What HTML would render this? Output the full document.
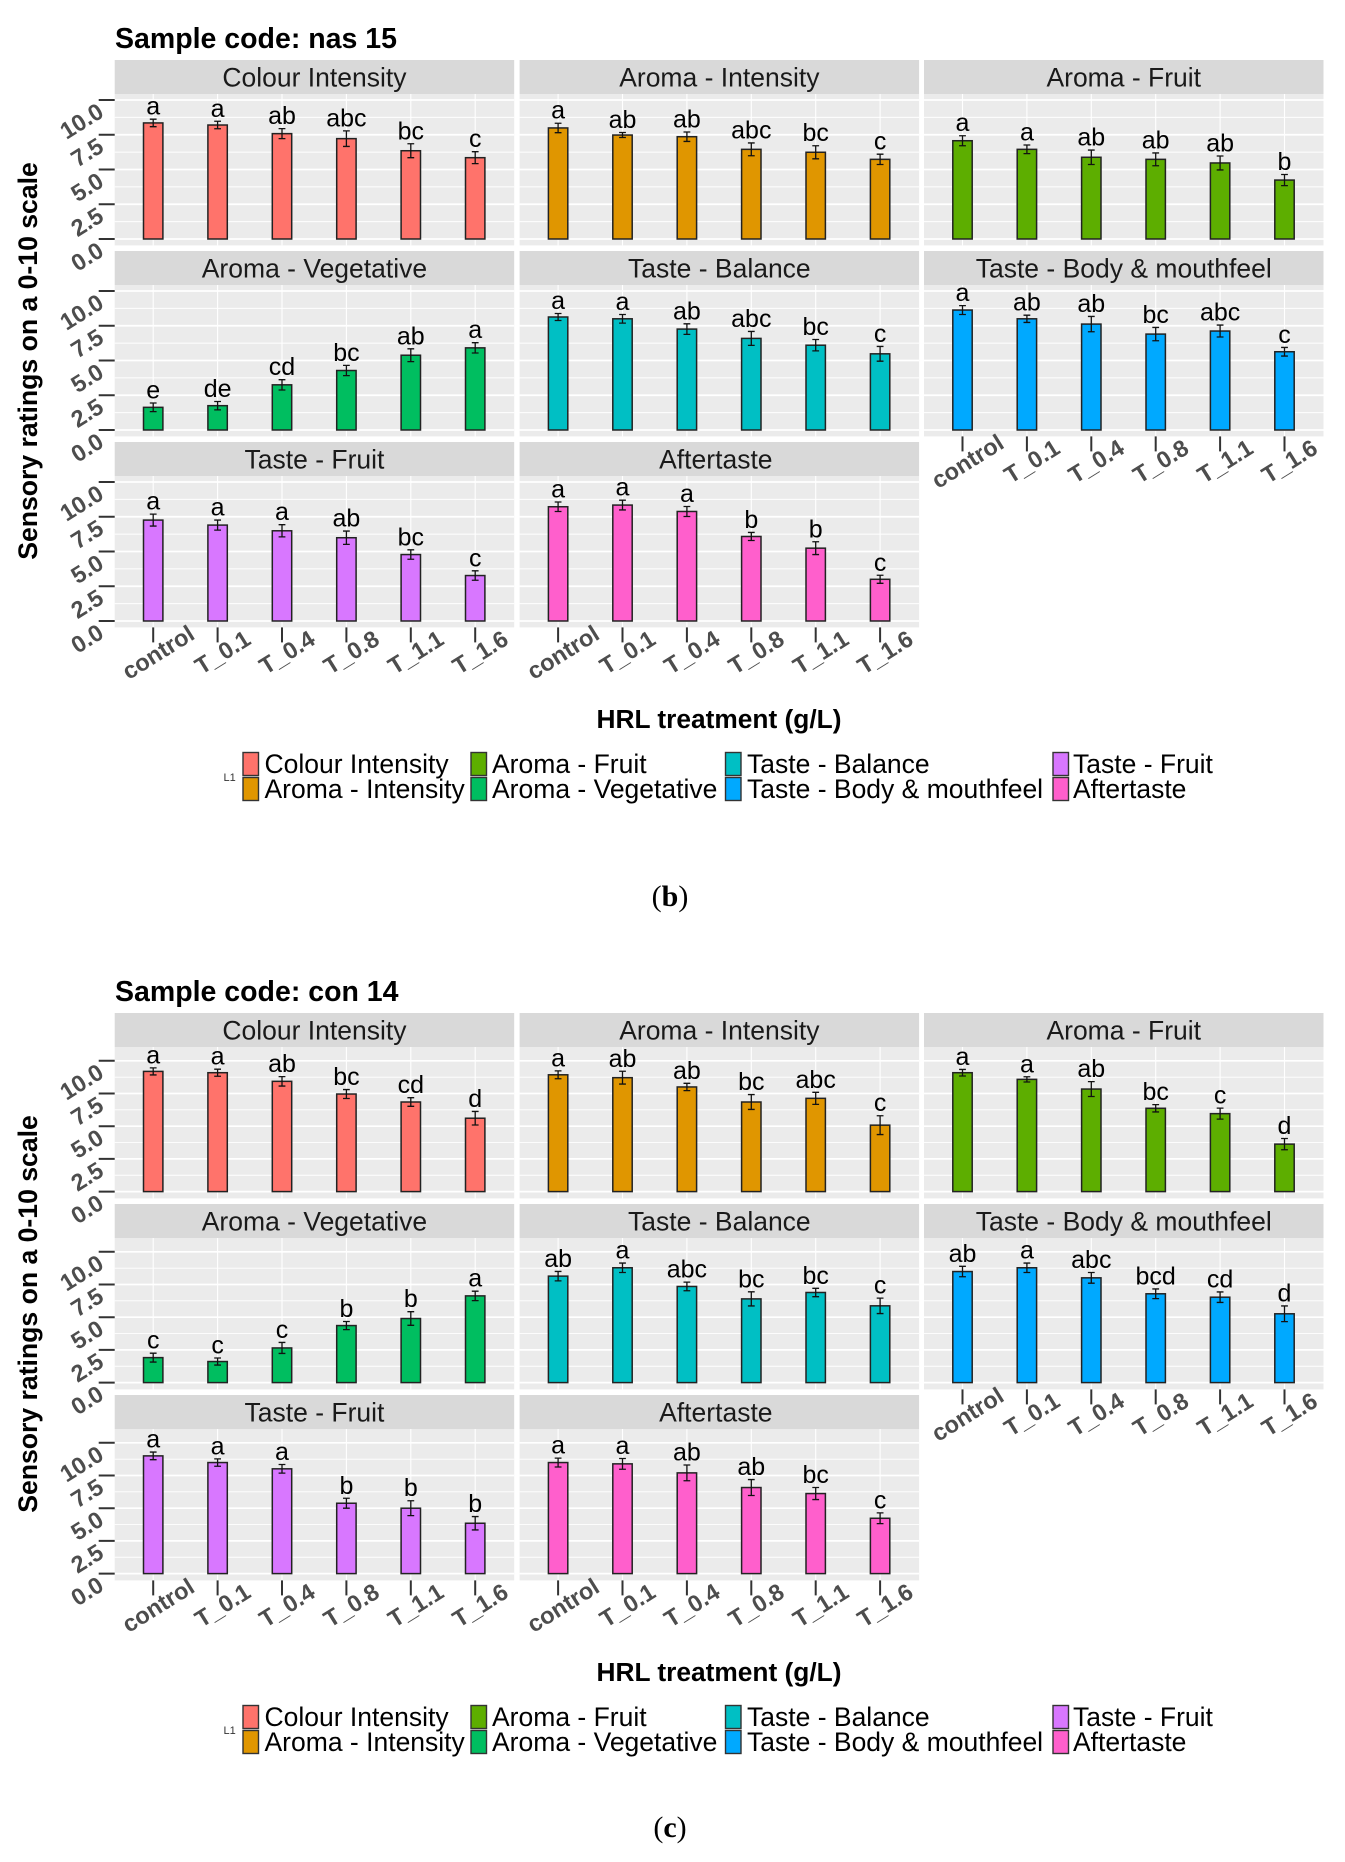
<!DOCTYPE html>
<html lang="en">
<head>
<meta charset="utf-8">
<title>Sensory ratings by HRL treatment</title>
<style>
html,body{margin:0;padding:0;background:#fff;width:1345px;height:1862px;overflow:hidden}
svg{display:block}
text{font-family:"Liberation Sans",sans-serif}
.bold{font-weight:700}
.cap{font-family:"Liberation Serif",serif;font-size:30px}
</style>
</head>
<body>
<svg id="chart" xmlns="http://www.w3.org/2000/svg" width="1345" height="1862" viewBox="0 0 1345 1862">
  <rect width="1345" height="1862" fill="#fff"/>
  <g id="fig-b">
    <text class="bold" x="115" y="48" font-size="28.5">Sample code: nas 15</text>
    <text class="bold" x="37" y="361" font-size="26.6" text-anchor="middle" transform="rotate(-90 37 361)">Sensory ratings on a 0-10 scale</text>
    <text class="bold" x="719" y="728" font-size="26.3" text-anchor="middle">HRL treatment (g/L)</text>
    <text class="cap" x="670" y="906" text-anchor="middle">(<tspan font-weight="700">b</tspan>)</text>
  </g>
  <g id="fig-c">
    <text class="bold" x="115" y="1001" font-size="28.5">Sample code: con 14</text>
    <text class="bold" x="37" y="1314" font-size="26.6" text-anchor="middle" transform="rotate(-90 37 1314)">Sensory ratings on a 0-10 scale</text>
    <text class="bold" x="719" y="1681" font-size="26.3" text-anchor="middle">HRL treatment (g/L)</text>
    <text class="cap" x="670" y="1837" text-anchor="middle">(<tspan font-weight="700">c</tspan>)</text>
  </g>
</svg>
<script>
const categories = ['control','T_0.1','T_0.4','T_0.8','T_1.1','T_1.6'];
const yTicks = [0,2.5,5,7.5,10];
const yTickLabels = ['0.0','2.5','5.0','7.5','10.0'];
const facetTitles = ['Colour Intensity','Aroma - Intensity','Aroma - Fruit','Aroma - Vegetative','Taste - Balance','Taste - Body & mouthfeel','Taste - Fruit','Aftertaste'];
const facetColors = ['#ff736b','#e09600','#5dae00','#00be60','#00bfc4','#00a9ff','#d877ff','#ff5fcc'];

/* Sample nas 15 */
const nasColourMeans = [8.35,8.2,7.58,7.22,6.35,5.85];
const nasColourErrors = [0.27,0.27,0.36,0.56,0.5,0.43];
const nasColourLetters = ['a','a','ab','abc','bc','c'];
const nasAromaIntMeans = [7.99,7.48,7.36,6.45,6.24,5.73];
const nasAromaIntErrors = [0.34,0.18,0.34,0.46,0.47,0.37];
const nasAromaIntLetters = ['a','ab','ab','abc','bc','c'];
const nasAromaFruitMeans = [7.07,6.45,5.88,5.73,5.47,4.24];
const nasAromaFruitErrors = [0.36,0.31,0.52,0.46,0.5,0.4];
const nasAromaFruitLetters = ['a','a','ab','ab','ab','b'];
const nasAromaVegMeans = [1.63,1.75,3.25,4.28,5.38,5.91];
const nasAromaVegErrors = [0.31,0.3,0.37,0.37,0.46,0.37];
const nasAromaVegLetters = ['e','de','cd','bc','ab','a'];
const nasBalanceMeans = [8.13,8.0,7.26,6.59,6.1,5.48];
const nasBalanceErrors = [0.25,0.31,0.38,0.5,0.41,0.53];
const nasBalanceLetters = ['a','a','ab','abc','bc','c'];
const nasBodyMeans = [8.63,8.0,7.62,6.9,7.12,5.63];
const nasBodyErrors = [0.32,0.26,0.55,0.48,0.43,0.31];
const nasBodyLetters = ['a','ab','ab','bc','abc','c'];
const nasTasteFruitMeans = [7.26,6.9,6.49,5.99,4.78,3.27];
const nasTasteFruitErrors = [0.43,0.36,0.44,0.48,0.34,0.34];
const nasTasteFruitLetters = ['a','a','a','ab','bc','c'];
const nasAfterMeans = [8.22,8.34,7.88,6.08,5.24,3.0];
const nasAfterErrors = [0.34,0.35,0.36,0.29,0.46,0.29];
const nasAfterLetters = ['a','a','a','b','b','c'];

/* Sample con 14 */
const conColourMeans = [9.19,9.09,8.43,7.46,6.85,5.61];
const conColourErrors = [0.27,0.27,0.36,0.34,0.33,0.52];
const conColourLetters = ['a','a','ab','bc','cd','d'];
const conAromaIntMeans = [8.93,8.71,8.0,6.85,7.13,5.08];
const conAromaIntErrors = [0.3,0.49,0.28,0.57,0.46,0.72];
const conAromaIntLetters = ['a','ab','ab','bc','abc','c'];
const conAromaFruitMeans = [9.09,8.58,7.84,6.37,5.96,3.63];
const conAromaFruitErrors = [0.25,0.2,0.57,0.28,0.42,0.43];
const conAromaFruitLetters = ['a','a','ab','bc','c','d'];
const conAromaVegMeans = [1.91,1.61,2.65,4.36,4.9,6.63];
const conAromaVegErrors = [0.34,0.27,0.42,0.31,0.52,0.36];
const conAromaVegLetters = ['c','c','c','b','b','a'];
const conBalanceMeans = [8.14,8.78,7.35,6.4,6.89,5.87];
const conBalanceErrors = [0.36,0.36,0.33,0.54,0.32,0.59];
const conBalanceLetters = ['ab','a','abc','bc','bc','c'];
const conBodyMeans = [8.49,8.78,8.01,6.79,6.53,5.26];
const conBodyErrors = [0.4,0.36,0.41,0.37,0.4,0.6];
const conBodyLetters = ['ab','a','abc','bcd','cd','d'];
const conTasteFruitMeans = [9.0,8.49,8.01,5.38,5.0,3.85];
const conTasteFruitErrors = [0.29,0.28,0.33,0.38,0.57,0.51];
const conTasteFruitLetters = ['a','a','a','b','b','b'];
const conAfterMeans = [8.49,8.39,7.7,6.58,6.12,4.23];
const conAfterErrors = [0.34,0.41,0.6,0.61,0.46,0.41];
const conAfterLetters = ['a','a','ab','ab','bc','c'];

const nasSeries = [
  [nasColourMeans,nasColourErrors,nasColourLetters],
  [nasAromaIntMeans,nasAromaIntErrors,nasAromaIntLetters],
  [nasAromaFruitMeans,nasAromaFruitErrors,nasAromaFruitLetters],
  [nasAromaVegMeans,nasAromaVegErrors,nasAromaVegLetters],
  [nasBalanceMeans,nasBalanceErrors,nasBalanceLetters],
  [nasBodyMeans,nasBodyErrors,nasBodyLetters],
  [nasTasteFruitMeans,nasTasteFruitErrors,nasTasteFruitLetters],
  [nasAfterMeans,nasAfterErrors,nasAfterLetters]
];
const conSeries = [
  [conColourMeans,conColourErrors,conColourLetters],
  [conAromaIntMeans,conAromaIntErrors,conAromaIntLetters],
  [conAromaFruitMeans,conAromaFruitErrors,conAromaFruitLetters],
  [conAromaVegMeans,conAromaVegErrors,conAromaVegLetters],
  [conBalanceMeans,conBalanceErrors,conBalanceLetters],
  [conBodyMeans,conBodyErrors,conBodyLetters],
  [conTasteFruitMeans,conTasteFruitErrors,conTasteFruitLetters],
  [conAfterMeans,conAfterErrors,conAfterLetters]
];

const NS = 'http://www.w3.org/2000/svg';
function mk(tag, parent, attrs, txt) {
  const el = document.createElementNS(NS, tag);
  for (const k in attrs) el.setAttribute(k, attrs[k]);
  if (txt !== undefined) el.textContent = txt;
  parent.appendChild(el);
  return el;
}

const COLS = [114.7, 519.6, 924];
const PANEL_W = 399.5;
const STRIP_TOPS = [60, 251, 442];
const STRIP_H = 34;
const PANEL_H = 151.4;
const GROUP_STEP = 64.4;
const GROUP_INSET = 38.5;
const BAR_W = 19.4;
const CAP_W = 6.8;
const TICK_INK = '#333';
const LABEL_INK = '#4d4d4d';
const TICK_FONT = 23.5;
const TICK_ANGLE = 32;

function drawFigure(root, series, offset, unitPx, zeroInset, prefix) {
  series.forEach(function (s, f) {
    const col = f % 3;
    const row = Math.floor(f / 3);
    const left = COLS[col];
    const stripTop = STRIP_TOPS[row] + offset;
    const top = stripTop + STRIP_H;
    const bottom = top + PANEL_H;
    const zero = bottom - zeroInset;
    const xScale = function (i) { return left + GROUP_INSET + i * GROUP_STEP; };
    const yScale = function (v) { return zero - v * unitPx; };
    const key = prefix + '-facet-' + (f + 1);

    const g = mk('g', root, {});
    
    

    const strip = mk('rect', g, {x: left, y: stripTop, width: PANEL_W, height: STRIP_H, fill: '#d9d9d9'});
    
    

    const stripNudge = facetTitles[f] === 'Aftertaste' ? -3.5 : 0;
    const stripLabel = mk('text', g, {x: left + PANEL_W / 2 + stripNudge, y: stripTop + 26.3, 'font-size': 26.5, fill: '#1a1a1a', 'text-anchor': 'middle'}, facetTitles[f]);
    
    

    const bg = mk('rect', g, {x: left, y: top, width: PANEL_W, height: PANEL_H, fill: '#ebebeb'});
    
    

    for (let k = 0; k <= 8; k++) {
      const value = k * 1.25;
      const grid = mk('line', g, {x1: left, x2: left + PANEL_W, y1: yScale(value), y2: yScale(value), stroke: '#fff', 'stroke-width': k % 2 === 0 ? 1.7 : 0.9});
      
      
    }
    categories.forEach(function (c, i) {
      const grid = mk('line', g, {x1: xScale(i), x2: xScale(i), y1: top, y2: bottom, stroke: '#fff', 'stroke-width': 1.1});
      
      
    });

    const means = s[0], errors = s[1], letters = s[2];
    means.forEach(function (v, i) {
      const cx = xScale(i);
      const bar = mk('rect', g, {x: cx - BAR_W / 2, y: yScale(v), width: BAR_W, height: zero - yScale(v), fill: facetColors[f], stroke: '#222', 'stroke-width': 1.5});
      
      

      const hi = yScale(v + errors[i]);
      const lo = yScale(v - errors[i]);
      const err = mk('path', g, {d: 'M' + (cx - CAP_W / 2) + ' ' + hi + 'H' + (cx + CAP_W / 2) + 'M' + cx + ' ' + hi + 'V' + lo + 'M' + (cx - CAP_W / 2) + ' ' + lo + 'H' + (cx + CAP_W / 2), fill: 'none', stroke: '#111', 'stroke-width': 1.3});
      
      

      const letter = mk('text', g, {x: cx, y: hi - 4.5, 'font-size': 25, fill: '#000', 'text-anchor': 'middle'}, letters[i]);
      
      
    });

    if (col === 0) {
      yTicks.forEach(function (t, i) {
        const tick = mk('line', g, {x1: left - 16, x2: left, y1: yScale(t), y2: yScale(t), stroke: TICK_INK, 'stroke-width': 2});
        
        
        const tx = 101, ty = yScale(t) + 9;
        const label = mk('text', g, {x: tx, y: ty, 'font-size': TICK_FONT, 'font-weight': 700, fill: LABEL_INK, 'text-anchor': 'end', 'dominant-baseline': 'central', transform: 'rotate(-' + TICK_ANGLE + ' ' + tx + ' ' + ty + ')'}, yTickLabels[i]);
        
        
      });
    }

    const showX = row === 2 || f === 5;
    if (showX) {
      categories.forEach(function (c, i) {
        const cx = xScale(i);
        const tick = mk('line', g, {x1: cx, x2: cx, y1: bottom, y2: bottom + 15, stroke: TICK_INK, 'stroke-width': 2});
        
        
        const tx = cx + 5, ty = bottom + 25;
        const label = mk('text', g, {x: tx, y: ty, 'font-size': TICK_FONT, 'font-weight': 700, fill: LABEL_INK, 'text-anchor': 'middle', 'dominant-baseline': 'central', transform: 'rotate(-' + TICK_ANGLE + ' ' + tx + ' ' + ty + ')'}, c);
        
        
      });
    }
  });

  /* legend: four columns, two rows, reading down */
  const legendSwatchX = [243, 471, 725.5, 1053];
  const legendTextX = [264.5, 492, 747, 1073];
  const lg = mk('g', root, {});
  
  
  const l1 = mk('text', lg, {x: 223.5, y: 781 + offset, 'font-size': 11, fill: '#333'}, 'L1');
  
  
  facetTitles.forEach(function (name, i) {
    const c = Math.floor(i / 2);
    const r = i % 2;
    const y = 752.5 + r * 25 + offset;
    const swatch = mk('rect', lg, {x: legendSwatchX[c], y: y, width: 15.5, height: 23, fill: facetColors[i], stroke: '#333', 'stroke-width': 1.4});
    
    
    const label = mk('text', lg, {x: legendTextX[c], y: y + 20.5, 'font-size': 26.5, fill: '#000'}, name);
    
    
  });
}

drawFigure(document.getElementById('fig-b'), nasSeries, 0, 13.9, 6.4, 'figure-b');
drawFigure(document.getElementById('fig-c'), conSeries, 953, 13.08, 6.8, 'figure-c');
</script>
</body>
</html>
